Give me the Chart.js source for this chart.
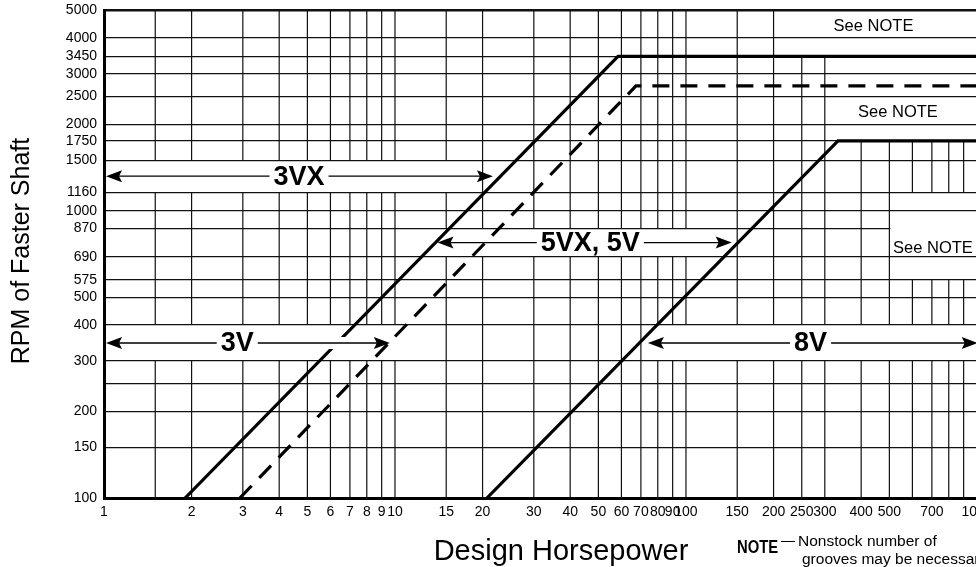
<!DOCTYPE html>
<html>
<head>
<meta charset="utf-8">
<script src="https://cdn.jsdelivr.net/npm/chart.js@4.4.1/dist/chart.umd.min.js"></script>
<style>
  html, body { margin: 0; padding: 0; background: #fff; overflow: hidden; }
  #wrap { width: 1010px; height: 567px; position: relative; }
</style>
</head>
<body>
<div id="wrap"><canvas id="myChart"></canvas></div>
<script>
// grid + tick values
const hpGrid = [1, 1.5, 2, 3, 4, 5, 6, 7, 8, 9, 10, 15, 20, 30, 40, 50, 60, 70, 80, 90,
                100, 150, 200, 250, 300, 400, 500, 600, 700, 800, 900, 1000];
const hpLabels = [1, 2, 3, 4, 5, 6, 7, 8, 9, 10, 15, 20, 30, 40, 50, 60, 70, 80, 90,
                  100, 150, 200, 250, 300, 400, 500, 700, 1000];
const rpmGrid = [100, 150, 200, 250, 300, 400, 500, 575, 690, 870, 1000, 1160, 1500,
                 1750, 2000, 2500, 3000, 3450, 4000, 5000];
const rpmLabels = [100, 150, 200, 300, 400, 500, 575, 690, 870, 1000, 1160, 1500,
                   1750, 2000, 2500, 3000, 3450, 4000, 5000];

// belt section limit lines
const hp3VX = [1.9, 58.4, 1200];
const rpm3VX = [100, 3450, 3450];
const hp5VX = [2.93, 67.3, 1200];
const rpm5VX = [100, 2720, 2720];
const hp8V = [20.7, 333, 1200];
const rpm8V = [100, 1750, 1750];

// section arrows: label, rpm band, arrow ends (hp), label centre (hp)
const arrows = [
  { label: '3VX', lo: 1160, hi: 1500, from: 1.016, to: 21.7, at: 4.68 },
  { label: '3V', lo: 300, hi: 400, from: 1.016, to: 9.6, at: 2.87, halo: [5.4, 7.6] },
  { label: '5VX, 5V', lo: 690, hi: 870, from: 14.0, to: 143.6, at: 46.9 },
  { label: '8V', lo: 300, hi: 400, from: 74, to: 1006, at: 268 }
];

// where the vertical grid is left out (hp range, rpm range)
const gaps = [
  [1, 19.5, 1160, 1500],
  [1, 10.5, 300, 400],
  [14.2, 149, 690, 870],
  [74, Infinity, 300, 400],
  [201, Infinity, 3450, 5000],
  [301, Infinity, 1750, 3450],
  [501, Infinity, 575, 1160]
];

const notes = [
  { hp: 441, rpm: 4383 },
  { hp: 535, rpm: 2208 },
  { hp: 706, rpm: 739 }
];

const FONT = '"Liberation Sans", Arial, Helvetica, sans-serif';
Chart.defaults.font.family = FONT;
Chart.defaults.color = '#000';

function pts(xs, ys) {
  return xs.map((v, i) => ({ x: v, y: ys[i] }));
}

const lineStyle = {
  showLine: true,
  borderColor: '#000',
  borderWidth: 3.2,
  pointRadius: 0,
  tension: 0,
  borderJoinStyle: 'miter',
  borderCapStyle: 'butt'
};

const gridPlugin = {
  id: 'vgrid',
  beforeDatasetsDraw(chart) {
    const { ctx, chartArea: a, scales: { x, y } } = chart;
    ctx.save();
    ctx.strokeStyle = '#111';
    ctx.lineWidth = 1.2;
    hpGrid.forEach(v => {
      if (v === 1) return;
      const px = x.getPixelForValue(v);
      const cuts = gaps.filter(g => v > g[0] && v < g[1])
        .map(g => [y.getPixelForValue(g[3]), y.getPixelForValue(g[2])])
        .sort((p, q) => p[0] - q[0]);
      let top = a.top;
      ctx.beginPath();
      cuts.forEach(c => {
        if (c[0] > top) { ctx.moveTo(px, top); ctx.lineTo(px, c[0]); }
        top = Math.max(top, c[1]);
      });
      if (top < a.bottom) { ctx.moveTo(px, top); ctx.lineTo(px, a.bottom); }
      ctx.stroke();
    });
    // 870 line stops at the lower NOTE box
    ctx.fillStyle = '#fff';
    const bx = x.getPixelForValue(500) + 1;
    ctx.fillRect(bx, y.getPixelForValue(870) - 2, a.right - bx, 4);
    ctx.restore();
  },
  afterDatasetsDraw(chart) {
    const { ctx, scales: { x, y } } = chart;
    ctx.save();
    arrows.forEach(ar => {
      const yy = y.getPixelForValue(Math.sqrt(ar.lo * ar.hi));
      const xa = x.getPixelForValue(ar.from);
      const xb = x.getPixelForValue(ar.to);
      const xt = x.getPixelForValue(ar.at);
      if (ar.halo) {
        const h0 = x.getPixelForValue(ar.halo[0]);
        const h1 = x.getPixelForValue(ar.halo[1]);
        ctx.fillStyle = '#fff';
        ctx.fillRect(h0, yy - 6, h1 - h0, 12);
      }
      ctx.font = 'bold 27px ' + FONT;
      const w = ctx.measureText(ar.label).width;
      ctx.strokeStyle = '#000';
      ctx.lineWidth = 1.3;
      ctx.beginPath();
      ctx.moveTo(xa + 10, yy); ctx.lineTo(xt - w / 2 - 4, yy);
      ctx.moveTo(xt + w / 2 + 4, yy); ctx.lineTo(xb - 10, yy);
      ctx.stroke();
      ctx.fillStyle = '#000';
      [[xa, 1], [xb, -1]].forEach(([tx, d]) => {
        ctx.beginPath();
        ctx.moveTo(tx, yy);
        ctx.lineTo(tx + d * 16, yy - 6);
        ctx.lineTo(tx + d * 13, yy);
        ctx.lineTo(tx + d * 16, yy + 6);
        ctx.closePath();
        ctx.fill();
      });
      ctx.textAlign = 'center';
      ctx.textBaseline = 'middle';
      ctx.fillText(ar.label, xt, yy + 1);
    });
    ctx.font = '16.5px ' + FONT;
    ctx.textAlign = 'center';
    ctx.textBaseline = 'middle';
    notes.forEach(n => {
      ctx.fillText('See NOTE', x.getPixelForValue(n.hp), y.getPixelForValue(n.rpm));
    });
    ctx.restore();
  },
  afterDraw(chart) {
    const ctx = chart.ctx;
    ctx.save();
    ctx.fillStyle = '#000';
    ctx.textAlign = 'center';
    ctx.textBaseline = 'middle';
    ctx.font = '25px ' + FONT;
    ctx.translate(22, 251);
    ctx.rotate(-Math.PI / 2);
    ctx.fillText('RPM of Faster Shaft', 0, 0);
    ctx.restore();

    ctx.save();
    ctx.fillStyle = '#000';
    ctx.textAlign = 'center';
    ctx.textBaseline = 'alphabetic';
    ctx.font = '29px ' + FONT;
    ctx.fillText('Design Horsepower', 561, 560);

    ctx.textAlign = 'left';
    ctx.save();
    ctx.translate(737, 553);
    ctx.scale(0.78, 1);
    ctx.font = 'bold 19px ' + FONT;
    ctx.fillText('NOTE', 0, 0);
    ctx.restore();
    ctx.lineWidth = 1;
    ctx.strokeStyle = '#000';
    ctx.beginPath();
    ctx.moveTo(781, 541.5); ctx.lineTo(795, 541.5);
    ctx.stroke();
    ctx.font = '15.5px ' + FONT;
    ctx.fillText('Nonstock number of', 798, 546);
    ctx.fillText('grooves may be necessary.', 802, 564);
    ctx.restore();
  }
};

const config = {
  type: 'scatter',
  data: {
    datasets: [
      Object.assign({ data: pts(hp3VX, rpm3VX) }, lineStyle),
      Object.assign({ data: pts(hp5VX, rpm5VX), borderDash: [17, 11] }, lineStyle),
      Object.assign({ data: pts(hp8V, rpm8V) }, lineStyle)
    ]
  },
  options: {
    responsive: true,
    maintainAspectRatio: false,
    animation: false,
    layout: { padding: { top: 10, right: 10, left: 0, bottom: 0 } },
    plugins: {
      legend: { display: false },
      tooltip: { enabled: false }
    },
    scales: {
      x: {
        type: 'logarithmic',
        min: 1,
        max: 1200,
        afterBuildTicks: s => { s.ticks = hpGrid.map(v => ({ value: v })); },
        afterFit: s => { s.height = 69; s.paddingLeft = 0; s.paddingRight = 0; },
        grid: { display: true, color: 'rgba(0,0,0,0)', drawTicks: false },
        border: { display: true, color: '#000', width: 3 },
        ticks: {
          autoSkip: false,
          maxRotation: 0,
          padding: 6,
          font: { size: 14 },
          color: '#000',
          callback: v => hpLabels.includes(v) ? String(v) : ''
        }
      },
      y: {
        type: 'logarithmic',
        min: 100,
        max: 5000,
        afterBuildTicks: s => { s.ticks = rpmGrid.map(v => ({ value: v })); },
        afterFit: s => { s.width = 104; s.paddingTop = 0; s.paddingBottom = 0; },
        grid: {
          color: '#111',
          lineWidth: c => (c.tick && c.tick.value === 5000) ? 2.4 : 1.2,
          drawTicks: false
        },
        border: { display: true, color: '#000', width: 3 },
        ticks: {
          autoSkip: false,
          padding: 7,
          font: { size: 14 },
          color: '#000',
          callback: v => rpmLabels.includes(v) ? String(v) : ''
        }
      }
    }
  },
  plugins: [gridPlugin]
};

const myChart = new Chart(document.getElementById('myChart'), config);
</script>
</body>
</html>
